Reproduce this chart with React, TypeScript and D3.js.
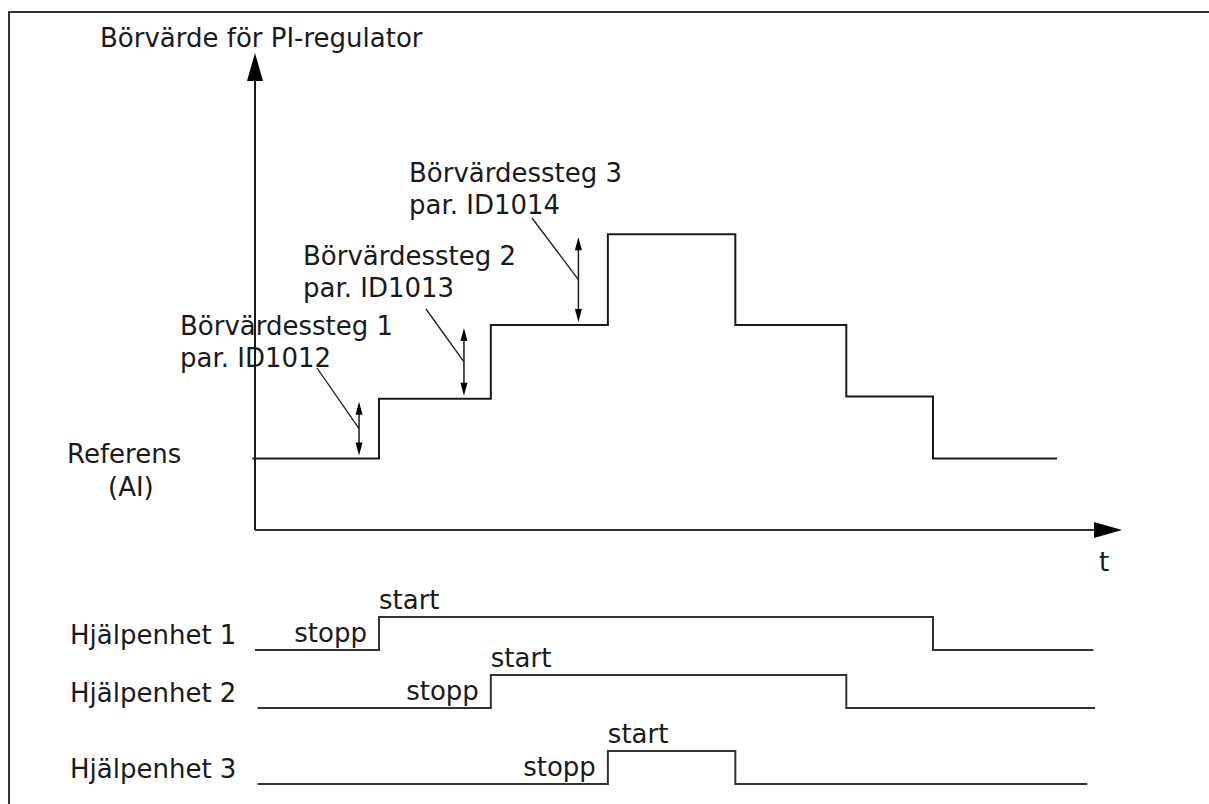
import * as d3 from 'd3';
import React from 'react';

// setpoint for the PI controller: level switches at these times (arbitrary units)
const setpointTimes = [-0.3, 14.3, 27.2, 40.7, 55.4, 68.2, 78.2];
const setpointLevels = [15, 27.5, 43, 62, 43, 28, 15];
const setpointEnd = 92.5;

// auxiliary drives: stop -> start -> stop
const unitNames = ['Hjälpenhet 1', 'Hjälpenhet 2', 'Hjälpenhet 3'];
const unitBegin = [0, 0.3, 0.3];
const unitStart = [14.3, 27.2, 40.7];
const unitStop = [78.2, 68.2, 55.4];
const unitEnd = [96.7, 96.9, 96.0];

// setpoint step annotations
const stepNames = ['Börvärdessteg 1', 'Börvärdessteg 2', 'Börvärdessteg 3'];
const stepParams = ['par. ID1012', 'par. ID1013', 'par. ID1014'];
const stepArrowTimes = [12.0, 24.1, 37.3];
const stepFrom = [15, 27.5, 43];
const stepTo = [27.5, 43, 62];

const W = 1209;
const H = 804;
const font = "'DejaVu Sans', Verdana, sans-serif";
const ink = '#1a1a1a';

// layout of the annotation labels
const labelPos = [
  { x: 180, y: 335, lx: 317, ly: 368 },
  { x: 303, y: 265, lx: 426, ly: 309 },
  { x: 409, y: 182, lx: 532, ly: 218 },
];
const rowLow = [650, 708, 784];
const rowRise = 33;

export default function App() {
  const x = d3.scaleLinear().domain([0, 100]).range([255, 1122]);
  const y = d3.scaleLinear().domain([0, 100]).range([530, 53]);

  const pts: [number, number][] = setpointTimes.map((t, i) => [t, setpointLevels[i]]);
  pts.push([setpointEnd, setpointLevels[setpointLevels.length - 1]]);
  const stepLine = d3
    .line<[number, number]>()
    .x((d) => x(d[0]))
    .y((d) => y(d[1]))
    .curve(d3.curveStepAfter);

  const x0 = x(0);
  const y0 = y(0);
  const xEnd = x(100);
  const yTop = y(100);
  const headL = 28;
  const headW = 8;

  const smallHead = (cx: number, tipY: number, dir: number) =>
    `M${cx},${tipY} L${cx - 3.5},${tipY + dir * 13} L${cx + 3.5},${tipY + dir * 13} Z`;

  return (
    <svg
      width={W}
      height={H}
      style={{ position: 'absolute', left: 0, top: 0, background: '#fff' }}
      fontFamily={font}
      fontSize={26}
    >
      <rect x={9} y={12} width={W + 50} height={H + 50} fill="none" stroke="#333" strokeWidth={2} />

      <text x={100} y={47} fill={ink}>Börvärde för PI-regulator</text>

      {/* axes */}
      <line x1={x0} y1={y0} x2={x0} y2={yTop + headL} stroke={ink} strokeWidth={2} />
      <path d={`M${x0},${yTop} L${x0 - headW},${yTop + headL} L${x0 + headW},${yTop + headL} Z`} fill="#000" />
      <line x1={x0} y1={y0} x2={xEnd - headL} y2={y0} stroke="#333" strokeWidth={2} />
      <path d={`M${xEnd},${y0} L${xEnd - headL},${y0 - headW} L${xEnd - headL},${y0 + headW} Z`} fill="#000" />
      <text x={1099} y={571} fill={ink}>t</text>

      <text x={67} y={463} fill={ink}>Referens</text>
      <text x={108} y={496} fill={ink}>(AI)</text>

      <path d={stepLine(pts) ?? ''} fill="none" stroke={ink} strokeWidth={2} />

      {stepNames.map((name, i) => {
        const ax = x(stepArrowTimes[i]);
        const top = y(stepTo[i]) + 3;
        const bot = y(stepFrom[i]) - 3;
        const mid = (top + bot) / 2;
        const p = labelPos[i];
        return (
          <g key={name}>
            <text x={p.x} y={p.y} fill={ink}>{name}</text>
            <text x={p.x} y={p.y + 32} fill={ink}>{stepParams[i]}</text>
            <line x1={p.lx} y1={p.ly} x2={ax} y2={mid} stroke={ink} strokeWidth={1.3} />
            <line x1={ax} y1={top + 10} x2={ax} y2={bot - 10} stroke={ink} strokeWidth={1.5} />
            <path d={smallHead(ax, top, 1)} fill="#000" />
            <path d={smallHead(ax, bot, -1)} fill="#000" />
          </g>
        );
      })}

      {unitNames.map((name, i) => {
        const s = d3.scaleLinear().domain([0, 1]).range([rowLow[i], rowLow[i] - rowRise]);
        const up: [number, number][] = [
          [unitBegin[i], 0],
          [unitStart[i], 1],
          [unitStop[i], 0],
          [unitEnd[i], 0],
        ];
        const line = d3
          .line<[number, number]>()
          .x((d) => x(d[0]))
          .y((d) => s(d[1]))
          .curve(d3.curveStepAfter);
        return (
          <g key={name}>
            <text x={70} y={rowLow[i] - 6} fill={ink}>{name}</text>
            <path d={line(up) ?? ''} fill="none" stroke="#333" strokeWidth={2} />
            <text x={x(unitStart[i]) - 12} y={rowLow[i] - 8} textAnchor="end" fill={ink}>stopp</text>
            <text x={x(unitStart[i])} y={rowLow[i] - rowRise - 8} fill={ink}>start</text>
          </g>
        );
      })}
    </svg>
  );
}
